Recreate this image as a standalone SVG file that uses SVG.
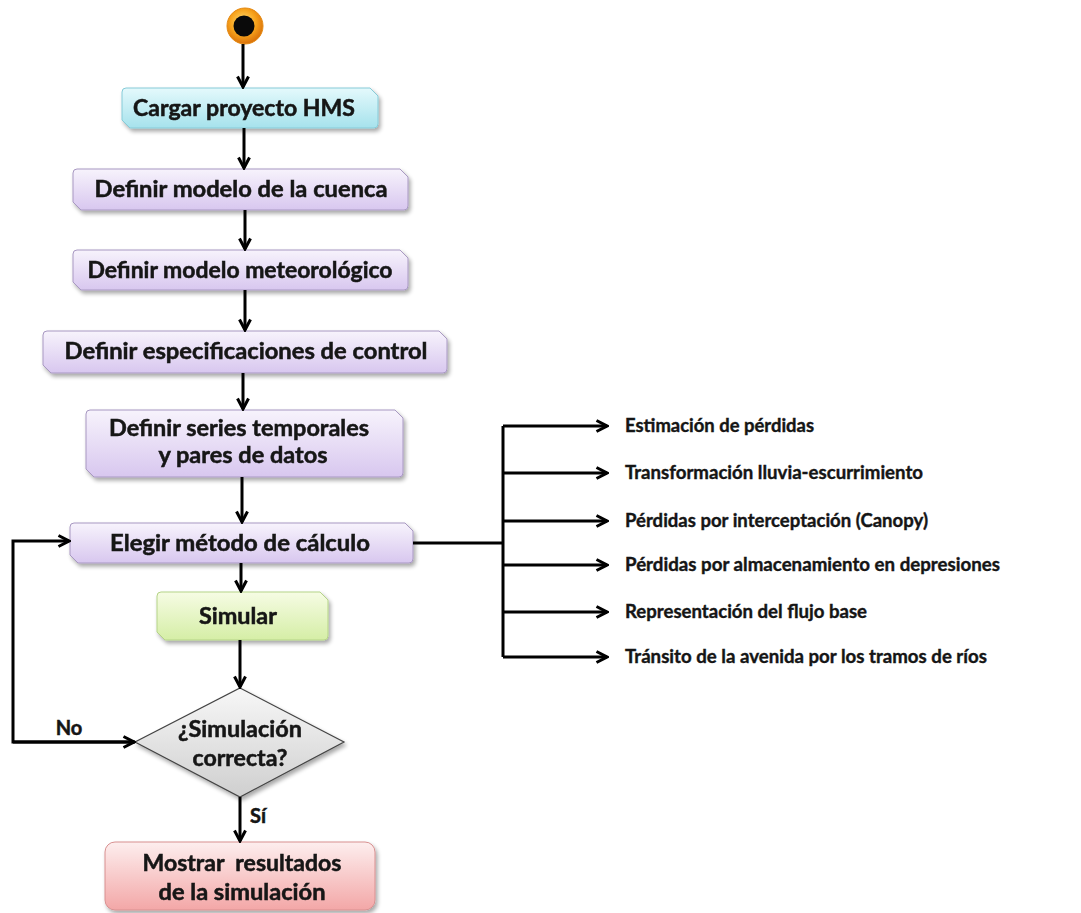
<svg xmlns="http://www.w3.org/2000/svg" width="1081" height="913" viewBox="0 0 1081 913">
<defs>
<linearGradient id="gCyan" x1="0" y1="0" x2="0" y2="1"><stop offset="0" stop-color="#e4f9fc"/><stop offset="1" stop-color="#a6e2ec"/></linearGradient>
<linearGradient id="gPurple" x1="0" y1="0" x2="0" y2="1"><stop offset="0" stop-color="#f7f3fc"/><stop offset="1" stop-color="#d8c7ef"/></linearGradient>
<linearGradient id="gGreen" x1="0" y1="0" x2="0" y2="1"><stop offset="0" stop-color="#f6fce4"/><stop offset="1" stop-color="#d5eea6"/></linearGradient>
<linearGradient id="gPink" x1="0" y1="0" x2="0" y2="1"><stop offset="0" stop-color="#fdeeee"/><stop offset="1" stop-color="#f3a7a7"/></linearGradient>
<linearGradient id="gGray" x1="0" y1="0" x2="0" y2="1"><stop offset="0" stop-color="#f7f7f7"/><stop offset="1" stop-color="#cfcfcf"/></linearGradient>
<radialGradient id="gOrange" cx="0.45" cy="0.4" r="0.6"><stop offset="0" stop-color="#ffe27a"/><stop offset="0.6" stop-color="#f7a21b"/><stop offset="1" stop-color="#d9700a"/></radialGradient>
<filter id="sh" x="-10%" y="-20%" width="130%" height="160%"><feGaussianBlur in="SourceAlpha" stdDeviation="2"/><feOffset dx="2" dy="3"/><feComponentTransfer><feFuncA type="linear" slope="0.35"/></feComponentTransfer><feMerge><feMergeNode/><feMergeNode in="SourceGraphic"/></feMerge></filter>
<marker id="ah" viewBox="0 0 14 14" refX="12" refY="7" markerWidth="14" markerHeight="14" orient="auto" markerUnits="userSpaceOnUse"><path d="M1.5,1.5 L12,7 L1.5,12.5" fill="none" stroke="#000" stroke-width="3" stroke-linejoin="miter"/></marker>
<style>
.t{font-family:Lato,"Open Sans","Liberation Sans",sans-serif;font-weight:bold;fill:#151515;stroke:#151515;stroke-width:0.5;text-anchor:middle;font-size:22px}
.r{font-family:Lato,"Open Sans","Liberation Sans",sans-serif;font-weight:bold;fill:#151515;stroke:#151515;stroke-width:0.4;font-size:19px}
.c{fill:none;stroke:#000;stroke-width:3}
.ca{fill:none;stroke:#000;stroke-width:3;marker-end:url(#ah)}
.bc{fill:url(#gCyan);stroke:#86cbd8;stroke-width:1}
.bp{fill:url(#gPurple);stroke:#a898c2;stroke-width:1}
.bg{fill:url(#gGreen);stroke:#b5d487;stroke-width:1}
.bk{fill:url(#gPink);stroke:#d89090;stroke-width:1}
.bd{fill:url(#gGray);stroke:#444;stroke-width:1.2}
</style>
</defs>
<rect width="1081" height="913" fill="#fff"/>

<g id="start">
<circle cx="245" cy="26" r="18" fill="url(#gOrange)" stroke="#e58a12" stroke-width="1"/>
<circle cx="244" cy="26" r="10.5" fill="#0a0a0a"/>
</g>

<g id="n1" filter="url(#sh)">
<path class="bc" d="M126,88 H370 L378,96 V124 Q378,128 374,128 H130 L122,120 V92 Q122,88 126,88 Z"/>
<text class="t" x="244" y="116" textLength="222" lengthAdjust="spacingAndGlyphs">Cargar proyecto HMS</text>
</g>

<g id="n2" filter="url(#sh)">
<path class="bp" d="M77,169 H400 L408,177 V206 Q408,210 404,210 H81 L73,202 V173 Q73,169 77,169 Z"/>
<text class="t" x="241" y="197" textLength="293" lengthAdjust="spacingAndGlyphs">Definir modelo de la cuenca</text>
</g>

<g id="n3" filter="url(#sh)">
<path class="bp" d="M77,250 H400 L408,258 V286 Q408,290 404,290 H81 L73,282 V254 Q73,250 77,250 Z"/>
<text class="t" x="240" y="278" textLength="305" lengthAdjust="spacingAndGlyphs">Definir modelo meteorológico</text>
</g>

<g id="n4" filter="url(#sh)">
<path class="bp" d="M47,331 H439 L447,339 V369 Q447,373 443,373 H51 L43,365 V335 Q43,331 47,331 Z"/>
<text class="t" x="246" y="359" textLength="363" lengthAdjust="spacingAndGlyphs">Definir especificaciones de control</text>
</g>

<g id="n5" filter="url(#sh)">
<path class="bp" d="M90,410 H395 L403,418 V473 Q403,477 399,477 H94 L86,469 V414 Q86,410 90,410 Z"/>
<text class="t" x="239" y="436" textLength="260" lengthAdjust="spacingAndGlyphs">Definir series temporales</text>
<text class="t" x="243" y="463" textLength="169" lengthAdjust="spacingAndGlyphs">y pares de datos</text>
</g>

<g id="n6" filter="url(#sh)">
<path class="bp" d="M74,523 H405 L413,531 V559 Q413,563 409,563 H78 L70,555 V527 Q70,523 74,523 Z"/>
<text class="t" x="240" y="551" textLength="260" lengthAdjust="spacingAndGlyphs">Elegir método de cálculo</text>
</g>

<g id="n7" filter="url(#sh)">
<path class="bg" d="M161,592 H320 L328,600 V636 Q328,640 324,640 H165 L157,632 V596 Q157,592 161,592 Z"/>
<text class="t" x="238" y="624" textLength="78" lengthAdjust="spacingAndGlyphs">Simular</text>
</g>

<g id="n8" filter="url(#sh)">
<path class="bd" d="M240,688 L344,742 L240,797 L135,742 Z"/>
<text class="t" x="240" y="737" textLength="124" lengthAdjust="spacingAndGlyphs">¿Simulación</text>
<text class="t" x="240" y="766" textLength="95" lengthAdjust="spacingAndGlyphs">correcta?</text>
</g>

<g id="n9" filter="url(#sh)">
<rect class="bk" x="105" y="842" width="270" height="68" rx="10" ry="10"/>
<text class="t" x="242" y="871" textLength="199" lengthAdjust="spacingAndGlyphs" xml:space="preserve">Mostrar  resultados</text>
<text class="t" x="242" y="900" textLength="167" lengthAdjust="spacingAndGlyphs">de la simulación</text>
</g>

<g id="methods">
<text class="r" x="625" y="432" textLength="189" lengthAdjust="spacingAndGlyphs">Estimación de pérdidas</text>
<text class="r" x="625" y="479" textLength="298" lengthAdjust="spacingAndGlyphs">Transformación lluvia-escurrimiento</text>
<text class="r" x="625" y="527" textLength="303" lengthAdjust="spacingAndGlyphs">Pérdidas por interceptación (Canopy)</text>
<text class="r" x="625" y="571" textLength="375" lengthAdjust="spacingAndGlyphs">Pérdidas por almacenamiento en depresiones</text>
<text class="r" x="625" y="618" textLength="242" lengthAdjust="spacingAndGlyphs">Representación del flujo base</text>
<text class="r" x="625" y="663" textLength="362" lengthAdjust="spacingAndGlyphs">Tránsito de la avenida por los tramos de ríos</text>
</g>

<g id="connectors">
<path class="ca" d="M243,44 V87"/>
<path class="ca" d="M244,128 V168"/>
<path class="ca" d="M245,210 V249"/>
<path class="ca" d="M245,290 V330"/>
<path class="ca" d="M243,373 V409"/>
<path class="ca" d="M242,477 V522"/>
<path class="ca" d="M241,563 V591"/>
<path class="ca" d="M240,640 V687"/>
<path class="ca" d="M240,797 V841"/>
<path class="ca" d="M135,742 H13 V541 H69"/>
<path class="ca" d="M13,742 H134"/>
<path class="c" d="M413,543 H503"/>
<path class="c" d="M503,426 V657"/>
<path class="ca" d="M503,426 H607"/>
<path class="ca" d="M503,473 H607"/>
<path class="ca" d="M503,521 H607"/>
<path class="ca" d="M503,565 H607"/>
<path class="ca" d="M503,612 H607"/>
<path class="ca" d="M503,657 H607"/>
<text class="t" x="69" y="735" style="font-size:20px">No</text>
<text class="t" x="258" y="823" style="font-size:20px">Sí</text>
</g>
</svg>
